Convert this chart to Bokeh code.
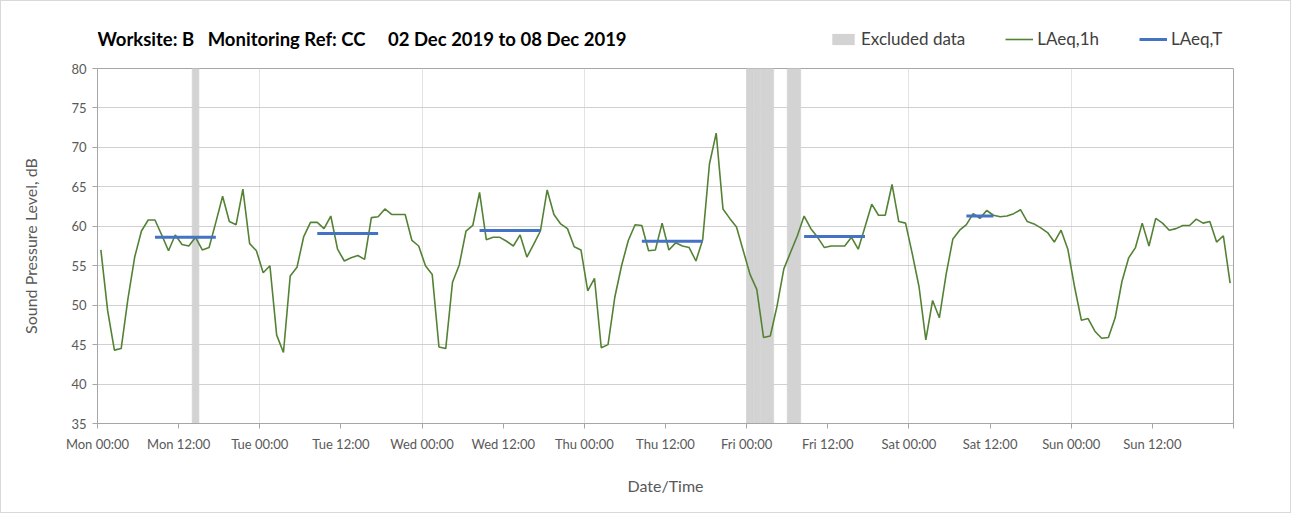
from bokeh.plotting import figure
from bokeh.layouts import column
from bokeh.models import FixedTicker, Range1d, Label, Legend, LegendItem, ColumnDataSource
from bokeh.embed import file_html
from bokeh.resources import INLINE

# ---------------- data ----------------
days = ["Mon", "Tue", "Wed", "Thu", "Fri", "Sat", "Sun"]
tick_labels = [f"{d} {t}" for d in days for t in ("00:00", "12:00")]

laeq_1h_mon = [57.0, 49.3, 44.3, 44.5, 50.8, 56.1, 59.4, 60.8, 60.8, 58.9, 56.9, 58.9,
               57.7, 57.5, 58.6, 57.0, 57.3, 60.5, 63.8, 60.6, 60.2, 64.7, 57.8, 56.9]
laeq_1h_tue = [54.1, 55.0, 46.2, 44.0, 53.7, 54.8, 58.7, 60.5, 60.5, 59.7, 61.3, 57.1,
               55.6, 56.0, 56.3, 55.8, 61.1, 61.2, 62.2, 61.5, 61.5, 61.5, 58.2, 57.5]
laeq_1h_wed = [55.0, 53.9, 44.7, 44.5, 52.9, 55.1, 59.4, 60.1, 64.3, 58.3, 58.6, 58.6,
               58.1, 57.5, 58.9, 56.1, 57.7, 59.4, 64.6, 61.5, 60.3, 59.7, 57.4, 57.0]
laeq_1h_thu = [51.8, 53.4, 44.6, 45.0, 51.0, 55.0, 58.2, 60.2, 60.1, 56.9, 57.0, 60.4,
               57.0, 57.9, 57.5, 57.3, 55.6, 58.3, 67.9, 71.8, 62.2, 61.0, 59.9, 56.9]
laeq_1h_fri = [53.9, 52.0, 45.9, 46.1, 49.9, 54.6, 56.7, 58.8, 61.3, 59.7, 58.6, 57.3,
               57.5, 57.5, 57.5, 58.6, 57.1, 59.9, 62.8, 61.4, 61.4, 65.3, 60.6, 60.4]
laeq_1h_sat = [56.5, 52.3, 45.6, 50.6, 48.4, 53.9, 58.4, 59.5, 60.2, 61.6, 61.0, 62.0,
               61.4, 61.2, 61.3, 61.6, 62.1, 60.6, 60.3, 59.8, 59.2, 58.0, 59.5, 57.1]
laeq_1h_sun = [52.3, 48.1, 48.3, 46.7, 45.8, 45.9, 48.4, 53.0, 56.0, 57.3, 60.4, 57.5,
               61.0, 60.4, 59.5, 59.7, 60.1, 60.1, 60.9, 60.4, 60.6, 58.0, 58.8, 52.8]

laeq_1h = (laeq_1h_mon + laeq_1h_tue + laeq_1h_wed + laeq_1h_thu +
           laeq_1h_fri + laeq_1h_sat + laeq_1h_sun)
hours = list(range(len(laeq_1h)))          # hour index from Mon 00:00

excluded_hours = [14, 96, 97, 98, 99, 102, 103]

laeq_t_start = [8, 32, 56, 80, 104, 128]
laeq_t_end = [17, 41, 65, 89, 113, 132]
laeq_t_values = [58.6, 59.1, 59.45, 58.1, 58.7, 61.3]

title_text = ("Worksite: B\u00a0\u00a0\u00a0Monitoring Ref: CC"
              "\u00a0\u00a0\u00a0\u00a0\u00a002 Dec 2019 to 08 Dec 2019")

# ---------------- styling ----------------
FONT = "Lato"
GREY_TXT = "#595959"
EXCL_COLOR = "#d3d3d3"
GREEN = "#548235"
BLUE = "#4472C4"
NAN = float("nan")

W = 1289
HEAD_H = 57
BL, BR = 96, 57          # left / right borders around the plot area
FRAME_W = W - BL - BR

# ---- main chart ----
p = figure(width=W, height=454,
           x_range=Range1d(0, 168), y_range=Range1d(35, 80),
           output_backend="svg", toolbar_location=None,
           min_border_left=BL, min_border_right=BR,
           min_border_top=10, min_border_bottom=89)
p.outline_line_color = "#a6a6a6"
p.outline_line_width = 1

ex_src = ColumnDataSource(dict(left=excluded_hours,
                               right=[h + 1 for h in excluded_hours],
                               bottom=[35] * len(excluded_hours),
                               top=[80] * len(excluded_hours)))
p.quad(left="left", right="right", bottom="bottom", top="top", source=ex_src,
       fill_color=EXCL_COLOR, line_color=EXCL_COLOR, line_width=0.6)

line_src = ColumnDataSource(dict(x=[h + 0.5 for h in hours], y=laeq_1h))
p.line("x", "y", source=line_src, line_color=GREEN, line_width=1.6)

t_src = ColumnDataSource(dict(x0=[s + 0.5 for s in laeq_t_start],
                              x1=[e + 0.5 for e in laeq_t_end],
                              y=laeq_t_values))
p.segment(x0="x0", y0="y", x1="x1", y1="y", source=t_src,
          line_color=BLUE, line_width=3)

p.xaxis.ticker = FixedTicker(ticks=list(range(0, 169, 12)))
p.xaxis.major_label_overrides = {i * 12: lab for i, lab in enumerate(tick_labels)} | {168: ""}
p.yaxis.ticker = FixedTicker(ticks=list(range(35, 81, 5)))
for ax in (p.xaxis[0], p.yaxis[0]):
    ax.axis_line_color = "#a6a6a6"
    ax.major_tick_line_color = "#a6a6a6"
    ax.major_tick_out = 5
    ax.major_tick_in = 0
    ax.minor_tick_line_color = None
    ax.major_label_text_font = FONT
    ax.major_label_text_font_size = "13px"
    ax.major_label_text_color = GREY_TXT
    ax.axis_label_text_font = FONT
    ax.axis_label_text_font_size = "16px"
    ax.axis_label_text_font_style = "normal"
    ax.axis_label_text_color = GREY_TXT
p.xaxis.axis_label = "Date/Time"
p.yaxis.axis_label = "Sound Pressure Level, dB"
p.xaxis.major_label_standoff = 7
p.yaxis.major_label_standoff = 6
p.xaxis.axis_label_standoff = 21
p.yaxis.axis_label_standoff = 28

p.xgrid.ticker = FixedTicker(ticks=list(range(24, 168, 24)))
p.xgrid.grid_line_color = "#e3e3e3"
p.ygrid.grid_line_color = "#d0d0d0"
p.ygrid.grid_line_width = 1

# ---- header: title + legend (pixel coordinates inside header frame) ----
h = figure(width=W, height=HEAD_H, x_range=Range1d(0, FRAME_W), y_range=Range1d(0, HEAD_H),
           output_backend="svg", toolbar_location=None,
           min_border_left=BL, min_border_right=BR, min_border_top=0, min_border_bottom=0,
           x_axis_type=None, y_axis_type=None)
h.grid.visible = False
h.outline_line_color = None

r_bar = h.quad(left=[NAN], right=[NAN], bottom=[NAN], top=[NAN],
               fill_color=EXCL_COLOR, line_color=None)
r_line = h.line(x=[NAN], y=[NAN], line_color=GREEN, line_width=1.6)
r_seg = h.segment(x0=[NAN], y0=[NAN], x1=[NAN], y1=[NAN], line_color=BLUE, line_width=3)

h.add_layout(Label(x=0, y=20, text=title_text, text_font=FONT, text_font_size="18.5px",
                   text_font_style="bold", text_color="#000000", text_baseline="middle"))

legend = Legend(items=[LegendItem(label="Excluded data", renderers=[r_bar]),
                       LegendItem(label="LAeq,1h", renderers=[r_line]),
                       LegendItem(label="LAeq,T", renderers=[r_seg])],
                orientation="horizontal", location=(728, 5),
                glyph_width=28, glyph_height=14, label_standoff=4, spacing=40,
                padding=4, margin=0, border_line_alpha=0, background_fill_alpha=0,
                label_text_font=FONT, label_text_font_size="17px",
                label_text_color="#404040")
h.add_layout(legend, "center")

layout = column(h, p, spacing=0)
layout.styles = {"border": "1px solid #d9d9d9"}

open("out.html", "w").write(file_html(layout, INLINE))
